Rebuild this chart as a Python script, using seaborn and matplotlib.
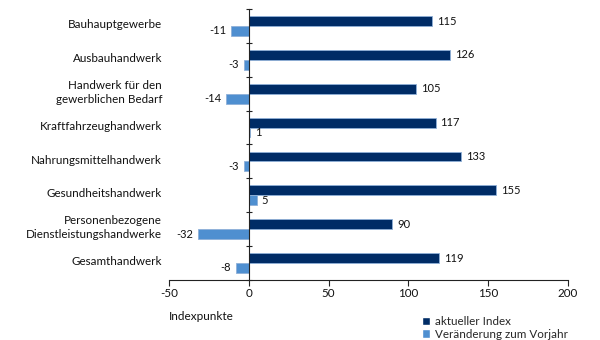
import matplotlib
matplotlib.use("Agg")
import matplotlib.pyplot as plt
import matplotlib.transforms as mtransforms
from matplotlib.patches import Patch
import seaborn as sns
import pandas as pd

categories = ["Bauhauptgewerbe", "Ausbauhandwerk", "Handwerk für den\ngewerblichen Bedarf",
              "Kraftfahrzeughandwerk", "Nahrungsmittelhandwerk", "Gesundheitshandwerk",
              "Personenbezogene\nDienstleistungshandwerke", "Gesamthandwerk"]
index_values = [115, 126, 105, 117, 133, 155, 90, 119]
change_values = [-11, -3, -14, 1, -3, 5, -32, -8]
series_names = ["aktueller Index", "Veränderung zum Vorjahr"]
xticks = [-50, 0, 50, 100, 150, 200]

dark = "#002c66"
light = "#4f8fd0"

sns.set_theme(style="white")
plt.rcParams['font.family'] = ['Lato', 'DejaVu Sans']

df = pd.DataFrame({
    "cat": categories * 2,
    "series": [series_names[0]] * len(categories) + [series_names[1]] * len(categories),
    "value": index_values + change_values,
})

fig = plt.figure(figsize=(6, 3.4), dpi=100)
ax = fig.add_axes([0.2817, 0.1765, 0.665, 0.797])
sns.barplot(data=df, y="cat", x="value", hue="series", orient="h",
            palette=[dark, light], width=0.58, ax=ax, legend=False,
            linewidth=0.6, edgecolor="#8fb0d8", saturation=1)

ax.set_xlim(-50, 200)
ax.set_ylim(7.5, -0.5)
ax.set_xticks(xticks)
ax.set_xticklabels([str(t) for t in xticks], fontsize=8.4, color="#111111")
ax.set_xlabel("")
ax.set_ylabel("")

for s in ["top", "right"]:
    ax.spines[s].set_visible(False)
ax.spines["left"].set_position(("data", 0))
ax.spines["left"].set_color("#222222")
ax.spines["bottom"].set_color("#222222")
ax.spines["left"].set_linewidth(0.8)
ax.spines["bottom"].set_linewidth(0.8)

ax.set_yticks([i - 0.5 for i in range(len(categories) + 1)])
ax.set_yticklabels([])
ax.tick_params(axis="y", which="major", direction="inout", length=4, width=0.8, color="#222222", left=True)
ax.tick_params(axis="x", which="major", direction="out", length=4, width=0.8, color="#222222", bottom=True, pad=2)

trans = mtransforms.blended_transform_factory(ax.transAxes, ax.transData)
for i, c in enumerate(categories):
    ax.text(-0.017, i - 0.04, c, transform=trans, ha="right", va="center",
            fontsize=8.4, color="#111111", linespacing=1.35)

for cont in ax.containers:
    ax.bar_label(cont, labels=[f"{v:g}" for v in cont.datavalues], padding=3.5,
                 fontsize=8, color="#111111")

fig.text(0.2817, 0.07, "Indexpunkte", fontsize=8.5, color="#111111", va="center", ha="left")
handles = [Patch(facecolor=dark), Patch(facecolor=light)]
fig.legend(handles, series_names, loc="upper left", bbox_to_anchor=(0.693, 0.088),
           frameon=False, fontsize=8.4, handlelength=0.7, handleheight=0.7,
           handletextpad=0.45, labelspacing=0.15, borderpad=0)

fig.savefig("out.png", dpi=100)
